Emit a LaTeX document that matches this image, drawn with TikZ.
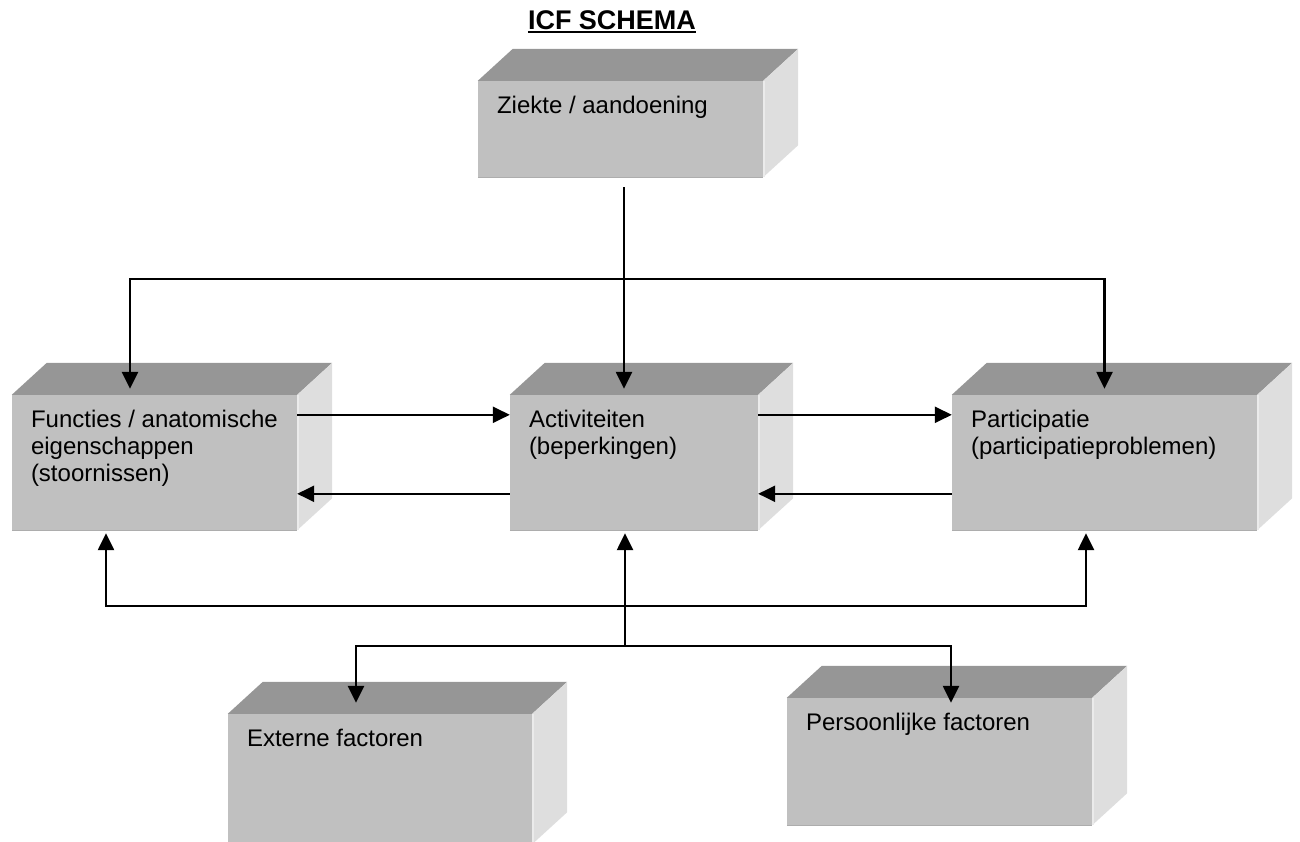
\documentclass[tikz,border=0pt]{standalone}
\usepackage{fontspec}
\setmainfont{Liberation Sans}
\usepackage{xcolor}
\usetikzlibrary{arrows.meta}

\definecolor{topgray}{HTML}{969696}
\definecolor{frontgray}{HTML}{C0C0C0}
\definecolor{sidegray}{HTML}{DEDEDE}

\begin{document}
\begin{tikzpicture}[x=1pt, y=-1pt,
	front/.style={rectangle, fill=frontgray, inner sep=0pt},
	boxtext/.style={anchor=north west, inner sep=0pt, align=left, font=\fontsize{24}{27}\selectfont},
	arr/.style={line width=2.5pt, -{Triangle[length=17pt,width=16pt]}}]

	\useasboundingbox (0,0) rectangle (1300,841);

	\node[anchor=base, inner sep=0pt, font=\bfseries\fontsize{27}{30}\selectfont] (title) at (612,29.5) {ICF SCHEMA};
	\draw[line width=2.4pt] ([yshift=-2.6pt]title.base west) -- ([yshift=-2.6pt]title.base east);

	% front faces
	\node[front, minimum width=285pt, minimum height=96pt] (ziekte) at (620.5,129) {};
	\node[front, minimum width=285pt, minimum height=135pt] (functies) at (154.5,462.5) {};
	\node[front, minimum width=248pt, minimum height=135pt] (activiteiten) at (634,462.5) {};
	\node[front, minimum width=305pt, minimum height=135pt] (participatie) at (1104.5,462.5) {};
	\node[front, minimum width=304pt, minimum height=130pt] (externe) at (380,779) {};
	\node[front, minimum width=305pt, minimum height=127pt] (persoonlijke) at (939.5,761.5) {};

	% top and side faces
	\foreach \b in {ziekte,functies,activiteiten,participatie,externe,persoonlijke} {
		\fill[topgray] (\b.north west) -- ++(35,-32) -- ([shift={(35,-32)}]\b.north east) -- (\b.north east) -- cycle;
		\fill[sidegray] (\b.north east) -- ++(35,-32) -- ([shift={(35,-32)}]\b.south east) -- (\b.south east) -- cycle;
		\draw[white!92!black, line width=1.5pt] ([xshift=0.75pt]\b.north east) -- ([xshift=0.75pt]\b.south east);
		\draw[white!68!black, line width=1.2pt] (\b.south west) -- (\b.south east);
	}

	\node[boxtext] (ziekte-t) at ([shift={(19,14)}]ziekte.north west) {\strut Ziekte / aandoening};
	\node[boxtext] (functies-t) at ([shift={(19,14)}]functies.north west) {\strut Functies / anatomische\\eigenschappen\\(stoornissen)};
	\node[boxtext] (activiteiten-t) at ([shift={(19,14)}]activiteiten.north west) {\strut Activiteiten\\(beperkingen)};
	\node[boxtext] (participatie-t) at ([shift={(19,14)}]participatie.north west) {\strut Participatie\\(participatieproblemen)};
	\node[boxtext] (externe-t) at ([shift={(19,14)}]externe.north west) {\strut Externe factoren};
	\node[boxtext] (persoonlijke-t) at ([shift={(19,14)}]persoonlijke.north west) {\strut Persoonlijke factoren};

	\coordinate (split) at (624,279);
	\coordinate (join) at (625,606);
	\coordinate (merge) at (625,646);

	% from the top box
	\draw[arr] ([xshift=3.5pt,yshift=-10pt]ziekte.south) -- ([xshift=-10pt,yshift=6pt]activiteiten.north);
	\draw[arr] (split) -| ([xshift=-24.5pt,yshift=6pt]functies.north);
	\draw[arr] (split) -| ([yshift=6pt]participatie.north);

	% between the middle row
	\draw[arr] ([yshift=-20pt]functies.north east) -- ([yshift=-20pt]activiteiten.north west);
	\draw[arr] ([yshift=-99pt]activiteiten.north west) -- ([yshift=-99pt]functies.north east);
	\draw[arr] ([yshift=-20pt]activiteiten.north east) -- ([yshift=-20pt]participatie.north west);
	\draw[arr] ([yshift=-99pt]participatie.north west) -- ([yshift=-99pt]activiteiten.north east);

	% from below
	\draw[arr] (merge) -- ([xshift=-9pt,yshift=-3pt]activiteiten.south);
	\draw[arr] (join) -| ([xshift=-48.5pt,yshift=-3pt]functies.south);
	\draw[arr] (join) -| ([xshift=-18.5pt,yshift=-3pt]participatie.south);
	\draw[arr] (merge) -| ([xshift=-24pt,yshift=11pt]externe.north);
	\draw[arr] (merge) -| ([xshift=11.5pt,yshift=-5pt]persoonlijke.north);

\end{tikzpicture}
\end{document}
